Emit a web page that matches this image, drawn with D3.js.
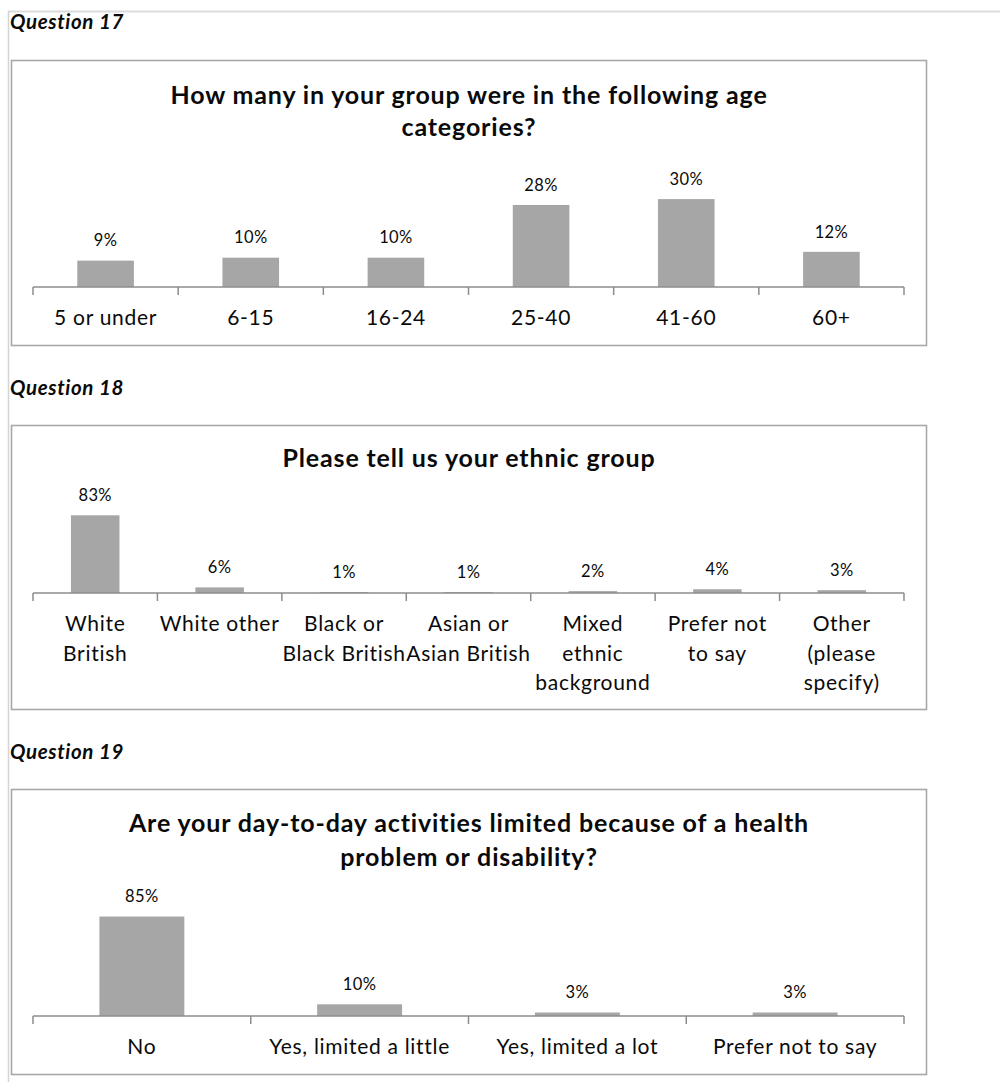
<!DOCTYPE html>
<html>
<head>
<meta charset="utf-8">
<script src="https://cdn.jsdelivr.net/npm/d3@7"></script>
<style>
  html, body { margin: 0; padding: 0; background: #fff; }
  svg { display: block; }
  text { font-family: Lato, "Open Sans", sans-serif; fill: #0a0a0a; }
</style>
</head>
<body>
<svg id="page" width="1000" height="1082"></svg>
<script>
// Question 17 – age categories
const ageCategories = ["5 or under", "6-15", "16-24", "25-40", "41-60", "60+"];
const ageValues = [9, 10, 10, 28, 30, 12];

// Question 18 – ethnic group
const ethnicCategories = ["White\nBritish", "White other", "Black or\nBlack British", "Asian or\nAsian British",
  "Mixed\nethnic\nbackground", "Prefer not\nto say", "Other\n(please\nspecify)"];
const ethnicValues = [83, 6, 1, 1, 2, 4, 3];

// Question 19 – health limitation
const healthCategories = ["No", "Yes, limited a little", "Yes, limited a lot", "Prefer not to say"];
const healthValues = [85, 10, 3, 3];

const questionLabels = ["Question 17", "Question 18", "Question 19"];
const chartTitles = [
  ["How many in your group were in the following age", "categories?"],
  ["Please tell us your ethnic group"],
  ["Are your day-to-day activities limited because of a health", "problem or disability?"]
];

const svg = d3.select("#page");

// page edges
svg.append("line").attr("x1", 8).attr("x2", 1000).attr("y1", 11.5).attr("y2", 11.5)
  .attr("stroke", "#dcdcdc").attr("stroke-width", 2);
svg.append("line").attr("x1", 8.5).attr("x2", 8.5).attr("y1", 11).attr("y2", 1082)
  .attr("stroke", "#d4d4d4").attr("stroke-width", 1.5);

const panels = [
  { q: 0, cats: ageCategories, vals: ageValues, qy: 22, box: [11, 60, 915, 285],
    titleY: [95, 127], axisY: 287, span: 293, labelY: 318 },
  { q: 1, cats: ethnicCategories, vals: ethnicValues, qy: 388, box: [11, 425, 915, 284],
    titleY: [458], axisY: 593, span: 93.6, labelY: 624 },
  { q: 2, cats: healthCategories, vals: healthValues, qy: 752, box: [11, 789, 915, 285],
    titleY: [823, 857], axisY: 1016, span: 117, labelY: 1047 }
];

panels.forEach(p => {
  // question heading
  svg.append("text").attr("x", 10).attr("y", p.qy).attr("dy", "0.35em")
    .style("font-size", "20.5px").style("font-weight", 700).style("font-style", "italic")
    .style("letter-spacing", "0.6px")
    .text(questionLabels[p.q]);

  const [bx, by, bw, bh] = p.box;
  svg.append("rect").attr("x", bx + 0.5).attr("y", by + 0.5).attr("width", bw).attr("height", bh)
    .attr("fill", "#fff").attr("stroke", "#a8a8a8").attr("stroke-width", 1.6);

  // chart title
  chartTitles[p.q].forEach((t, i) => {
    svg.append("text").attr("x", 469).attr("y", p.titleY[i]).attr("dy", "0.35em")
      .attr("text-anchor", "middle").style("font-size", "25px").style("font-weight", 700)
      .style("letter-spacing", "0.85px")
      .text(t);
  });

  const x = d3.scaleBand().domain(p.cats).range([33, 904]).paddingInner(0.61).paddingOuter(0.305);
  const y = d3.scaleLinear().domain([0, 100]).range([p.axisY, p.axisY - p.span]);
  const step = x.step();

  const g = svg.append("g");

  g.selectAll("rect.bar").data(p.cats).join("rect").attr("class", "bar")
    .attr("x", d => x(d)).attr("width", x.bandwidth())
    .attr("y", (d, i) => y(p.vals[i])).attr("height", (d, i) => y(0) - y(p.vals[i]))
    .attr("fill", "#a6a6a6");

  // value labels
  g.selectAll("text.val").data(p.cats).join("text").attr("class", "val")
    .attr("x", d => x(d) + x.bandwidth() / 2)
    .attr("y", (d, i) => y(p.vals[i]) - 20).attr("dy", "0.35em")
    .attr("text-anchor", "middle").style("font-size", "16.5px").style("letter-spacing", "0.4px")
    .text((d, i) => p.vals[i] + "%");

  // axis line and band-boundary ticks
  g.append("line").attr("x1", 33).attr("x2", 904).attr("y1", p.axisY).attr("y2", p.axisY)
    .attr("stroke", "#8c8c8c").attr("stroke-width", 1.5);
  const ticks = d3.range(p.cats.length + 1).map(i => 33 + i * step);
  g.selectAll("line.tick").data(ticks).join("line").attr("class", "tick")
    .attr("x1", d => d).attr("x2", d => d).attr("y1", p.axisY).attr("y2", p.axisY + 8)
    .attr("stroke", "#8c8c8c").attr("stroke-width", 1.5);

  // category labels
  p.cats.forEach(c => {
    const t = g.append("text").attr("text-anchor", "middle").style("font-size", "21px")
      .style("letter-spacing", "0.7px");
    c.split("\n").forEach((line, i) => {
      t.append("tspan").attr("x", x(c) + x.bandwidth() / 2)
        .attr("y", p.labelY + i * 29.5).attr("dy", "0.35em").text(line);
    });
  });
});
</script>
</body>
</html>
